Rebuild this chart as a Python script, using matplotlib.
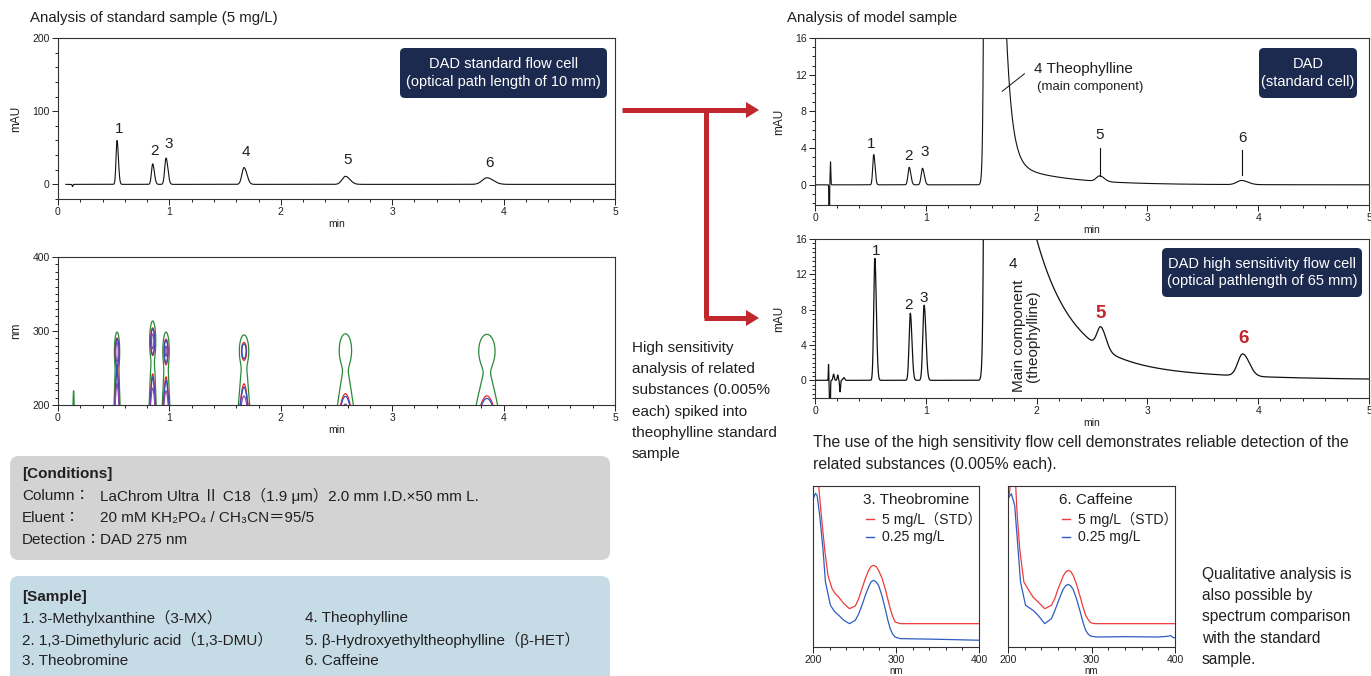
import numpy as np
import matplotlib
matplotlib.use('Agg')
import matplotlib.pyplot as plt
from matplotlib.patches import FancyBboxPatch, Polygon
from matplotlib.ticker import MultipleLocator

plt.rcParams['font.family'] = ['Liberation Sans', 'Noto Sans CJK JP', 'DejaVu Sans']

# ------------------------------------------------------------------ data
peak_labels = ['1', '2', '3', '4', '5', '6']

# standard sample (5 mg/L), standard flow cell, 275 nm
std_rt = [0.53, 0.85, 0.97, 1.67, 2.58, 3.85]
std_height = [60, 28, 36, 23, 11, 9]
std_width = [0.009, 0.011, 0.012, 0.019, 0.030, 0.042]
std_label_y = [75, 46, 55, 44, 33, 29]
std_inj_rt = [0.13]
std_inj_h = [-3]

# PDA (contour) spectral parameters per peak
band_center = [272, 286, 273, 273, 274, 273]
band_width = [10, 11, 10.5, 9.7, 12, 12.9]
uv_end_amp = [3.0, 3.0, 3.0, 3.0, 3.0, 3.0]
uv_end_decay = 14
shoulder_amp = 0.12
shoulder_center = 235
shoulder_width = 15
contour_levels = [2.0, 11.5, 14.5, 30]
contour_colors = ['#2a8a3a', '#e8262a', '#2b4fbf', '#8e44ad']
pda_inj_rt = 0.14
pda_inj_amp = 8

# model sample, standard cell
mod_rt = [0.53, 0.85, 0.97, 2.57, 3.85]
mod_height = [3.3, 1.9, 1.8, 0.6, 0.45]
mod_width = [0.009, 0.011, 0.012, 0.030, 0.042]
mod_inj_rt = [0.128, 0.14]
mod_inj_h = [-14, 2.5]
mod_inj_w = [0.002, 0.003]
mod_tail_ref = 1.73
mod_tail_amp = [13.75, 2.25]
mod_tail_tau = [0.053, 0.47]

# model sample, high sensitivity cell
hs_rt = [0.54, 0.86, 0.985, 2.58, 3.86]
hs_height = [13.8, 7.6, 8.5, 2.4, 2.5]
hs_width = [0.010, 0.011, 0.012, 0.034, 0.044]
hs_inj_rt = [0.122, 0.135, 0.168, 0.205, 0.226, 0.26]
hs_inj_h = [1.8, -7, 0.7, 0.6, -1.3, 0.3]
hs_inj_w = [0.002, 0.003, 0.006, 0.005, 0.004, 0.008]
hs_tail_ref = 2.0
hs_tail_amp = [13.05, 2.95]
hs_tail_tau = [0.31, 1.0]

main_front_rt = 1.60
main_front_w = 0.025
main_front_h = 3000

# UV spectra (normalised to panel height)
theo_wl_red = [207, 210, 214, 218, 223, 227, 231, 237, 244, 251, 255, 259, 263, 267, 270, 273, 276,
               279, 283, 287, 290, 293, 296, 299, 305, 400]
theo_red = [0.99, 0.82, 0.61, 0.445, 0.362, 0.33, 0.31, 0.27, 0.238, 0.255, 0.30, 0.362, 0.425,
            0.476, 0.50, 0.507, 0.50, 0.476, 0.43, 0.362, 0.30, 0.238, 0.19, 0.155, 0.145, 0.145]
theo_wl_blue = [201, 203, 205, 208, 212, 215, 221, 226, 231, 237, 244, 251, 255, 259, 263, 267, 270,
                273, 276, 279, 283, 287, 290, 293, 296, 299, 305, 350, 400]
theo_blue = [0.93, 0.955, 0.94, 0.82, 0.61, 0.404, 0.259, 0.22, 0.197, 0.166, 0.145, 0.166, 0.205,
             0.259, 0.32, 0.373, 0.405, 0.414, 0.405, 0.383, 0.32, 0.238, 0.17, 0.114, 0.08, 0.062,
             0.052, 0.048, 0.042]
caf_wl_red = [200, 202, 203.5, 209, 211, 214, 219, 225, 230, 236, 244, 252, 256, 260, 263, 266, 269,
              272, 275, 278, 282, 286, 290, 293, 296, 299, 304, 400]
caf_red = [0.90, 0.97, 1.05, 1.02, 0.82, 0.61, 0.404, 0.352, 0.31, 0.28, 0.238, 0.259, 0.30, 0.362,
           0.40, 0.44, 0.465, 0.476, 0.47, 0.445, 0.39, 0.32, 0.245, 0.197, 0.17, 0.151, 0.145, 0.145]
caf_wl_blue = [201, 204, 208, 212, 215, 221, 230, 236, 244, 252, 256, 260, 263, 266, 269, 272, 275,
               278, 282, 286, 290, 293, 296, 299, 306, 340, 380, 390, 395, 398, 400]
caf_blue = [0.93, 0.952, 0.88, 0.61, 0.404, 0.259, 0.228, 0.197, 0.145, 0.176, 0.225, 0.28, 0.32,
            0.358, 0.38, 0.389, 0.38, 0.358, 0.30, 0.228, 0.15, 0.104, 0.08, 0.068, 0.062, 0.064,
            0.062, 0.066, 0.07, 0.058, 0.058]

# ------------------------------------------------------------------ helpers
W, H = 1371, 676
fig = plt.figure(figsize=(W / 100, H / 100), dpi=100)
TXT = '#231f20'
RED = '#c1272d'
NAVY = '#1b2a4e'


def px_axes(l, t, r, b):
    return fig.add_axes([l / W, 1 - b / H, (r - l) / W, (b - t) / H])


def peak_sum(t, rts, hs, ws, tail=1.35):
    y = np.zeros_like(t)
    for rt, h, w in zip(rts, hs, ws):
        s = np.where(t < rt, w, w * tail)
        y += h * np.exp(-0.5 * ((t - rt) / s) ** 2)
    return y


def main_peak(t, ref, amps, taus):
    front = main_front_h * np.exp(-0.5 * ((t - main_front_rt) / main_front_w) ** 2)
    tail = sum(a * np.exp(-(t - ref) / tau) for a, tau in zip(amps, taus))
    return np.where(t < main_front_rt, front, tail)


def style_chrom(ax, ymin, ylim, yticks):
    ax.set_xlim(0, 5)
    ax.set_ylim(*ylim)
    ax.set_yticks(yticks)
    ax.xaxis.set_minor_locator(MultipleLocator(0.2))
    ax.yaxis.set_minor_locator(MultipleLocator(ymin))
    ax.tick_params(which='major', direction='out', length=4, width=0.7, labelsize=7.5,
                   pad=2, colors=TXT)
    ax.tick_params(which='minor', direction='out', length=2.3, width=0.6)
    ax.set_xticks([0, 1, 2, 3, 4, 5])
    for s in ax.spines.values():
        s.set_linewidth(0.8)
        s.set_color('#333333')
    ax.set_xlabel('min', fontsize=7.5, labelpad=1, color=TXT)
    ax.set_ylabel('mAU', fontsize=8.5, labelpad=7, color=TXT)


# ------------------------------------------------------------------ panel A
axA = px_axes(58, 38, 615, 199)
tA = np.arange(0.07, 5.0, 0.0005)
yA = peak_sum(tA, std_rt, std_height, std_width) + peak_sum(tA, std_inj_rt, std_inj_h, [0.003])
axA.plot(tA, yA, color='#111111', lw=0.8)
style_chrom(axA, 20, (-20, 200), [0, 100, 200])
for lab, rt, ly in zip(peak_labels, std_rt, std_label_y):
    axA.text(rt + 0.02, ly, lab, fontsize=11, ha='center', va='center', color=TXT)

# ------------------------------------------------------------------ panel B (contour)
axB = px_axes(58, 257, 615, 405)
tg = np.arange(0.0, 5.0, 0.0015)
wl = np.arange(200, 401, 1.0)
T, L = np.meshgrid(tg, wl)
Z = np.zeros_like(T)


def pda_spec(lam, c, bw, a):
    return (np.exp(-0.5 * ((lam - c) / bw) ** 2) + a * np.exp(-(lam - 200) / uv_end_decay)
            + shoulder_amp * np.exp(-0.5 * ((lam - shoulder_center) / shoulder_width) ** 2))


for rt, h, w, c, bw, a in zip(std_rt, std_height, std_width, band_center, band_width, uv_end_amp):
    Z += (h / pda_spec(275.0, c, bw, a)) * np.exp(-0.5 * ((T - rt) / w) ** 2) * pda_spec(L, c, bw, a)
Z += pda_inj_amp * np.exp(-0.5 * ((T - pda_inj_rt) / 0.003) ** 2) * np.exp(-(L - 200) / uv_end_decay)
axB.contour(T, L, Z, levels=contour_levels, colors=contour_colors, linewidths=0.9)
axB.set_xlim(0, 5)
axB.set_ylim(200, 400)
axB.set_yticks([200, 300, 400])
axB.set_xticks([0, 1, 2, 3, 4, 5])
axB.xaxis.set_minor_locator(MultipleLocator(0.2))
axB.yaxis.set_minor_locator(MultipleLocator(10))
axB.tick_params(which='major', direction='out', length=4, width=0.7, labelsize=7.5, pad=2, colors=TXT)
axB.tick_params(which='minor', direction='out', length=2.3, width=0.6)
for s in axB.spines.values():
    s.set_linewidth(0.8)
    s.set_color('#333333')
axB.set_xlabel('min', fontsize=7.5, labelpad=1, color=TXT)
axB.set_ylabel('nm', fontsize=8.5, labelpad=7, color=TXT)

# ------------------------------------------------------------------ panel C
axC = px_axes(815, 38, 1369, 205)
tC = np.arange(0.0, 5.0, 0.0005)
yC = (peak_sum(tC, mod_rt, mod_height, mod_width)
      + peak_sum(tC, mod_inj_rt, mod_inj_h, mod_inj_w, tail=1.0)
      + main_peak(tC, mod_tail_ref, mod_tail_amp, mod_tail_tau))
axC.plot(tC, yC, color='#111111', lw=0.8)
style_chrom(axC, 1, (-2.2, 16), [0, 4, 8, 12, 16])
axC.text(0.51, 4.4, '1', fontsize=11, ha='center', va='center', color=TXT)
axC.text(0.84, 3.1, '2', fontsize=11, ha='center', va='center', color=TXT)
axC.text(0.99, 3.6, '3', fontsize=11, ha='center', va='center', color=TXT)
axC.text(2.57, 5.4, '5', fontsize=11, ha='center', va='center', color=TXT)
axC.text(3.86, 5.1, '6', fontsize=11, ha='center', va='center', color=TXT)
axC.plot([2.57, 2.57], [1.0, 4.0], color='#111111', lw=0.8)
axC.plot([3.85, 3.85], [1.1, 3.8], color='#111111', lw=0.8)
axC.plot([1.69, 1.89], [10.2, 12.1], color='#111111', lw=0.7)
axC.text(1.975, 12.6, '4 Theophylline', fontsize=11, ha='left', va='center', color=TXT)
axC.text(2.0, 10.7, '(main component)', fontsize=9.5, ha='left', va='center', color=TXT)

# ------------------------------------------------------------------ panel D
axD = px_axes(815, 239, 1369, 398)
tD = np.arange(0.0, 5.0, 0.0005)
yD = (peak_sum(tD, hs_rt, hs_height, hs_width)
      + peak_sum(tD, hs_inj_rt, hs_inj_h, hs_inj_w, tail=1.0)
      + main_peak(tD, hs_tail_ref, hs_tail_amp, hs_tail_tau))
axD.plot(tD, yD, color='#111111', lw=0.9)
style_chrom(axD, 0.5, (-2, 16), [0, 4, 8, 12, 16])
axD.text(0.55, 14.6, '1', fontsize=11, ha='center', va='center', color=TXT)
axD.text(0.84, 8.5, '2', fontsize=11, ha='center', va='center', color=TXT)
axD.text(0.98, 9.3, '3', fontsize=11, ha='center', va='center', color=TXT)
axD.text(1.79, 13.2, '4', fontsize=11, ha='center', va='center', color=TXT)
axD.text(1.90, 5.0, 'Main component\n(theophylline)', fontsize=11, rotation=90,
         ha='center', va='center', color=TXT, linespacing=1.0)
axD.text(2.58, 7.6, '5', fontsize=13.5, fontweight='bold', ha='center', va='center', color=RED)
axD.text(3.87, 4.7, '6', fontsize=13.5, fontweight='bold', ha='center', va='center', color=RED)


# ------------------------------------------------------------------ spectra
def style_spec(ax):
    ax.set_xlim(200, 400)
    ax.set_ylim(0, 1)
    ax.set_yticks([])
    ax.set_xticks([200, 300, 400])
    ax.xaxis.set_minor_locator(MultipleLocator(20))
    ax.tick_params(which='major', direction='out', length=4, width=0.7, labelsize=7.5, pad=2,
                   colors=TXT)
    ax.tick_params(which='minor', direction='out', length=2.3, width=0.6)
    for s in ax.spines.values():
        s.set_linewidth(0.8)
        s.set_color('#333333')
    ax.set_xlabel('nm', fontsize=7, labelpad=0.5, color=TXT)


axS1 = px_axes(813, 486, 979, 647)
axS1.plot(theo_wl_red, theo_red, color='#ef3b3b', lw=0.9)
axS1.plot(theo_wl_blue, theo_blue, color='#2f5cc0', lw=0.9)
style_spec(axS1)

axS2 = px_axes(1008, 486, 1175, 647)
axS2.plot(caf_wl_red, caf_red, color='#ef3b3b', lw=0.9)
axS2.plot(caf_wl_blue, caf_blue, color='#2f5cc0', lw=0.9)
style_spec(axS2)

# ------------------------------------------------------------------ overlay (text, boxes, arrows)
ov = fig.add_axes([0, 0, 1, 1])
ov.set_xlim(0, W)
ov.set_ylim(H, 0)
ov.axis('off')
ov.patch.set_alpha(0)

ov.text(30, 18, 'Analysis of standard sample (5 mg/L)', fontsize=10.8, va='center', color=TXT)
ov.text(787, 18, 'Analysis of model sample', fontsize=10.8, va='center', color=TXT)


def navy_box(l, t, r, b, lines):
    ov.add_patch(FancyBboxPatch((l, t), r - l, b - t,
                                boxstyle='round,pad=0,rounding_size=5',
                                fc=NAVY, ec='none', zorder=5))
    ov.text((l + r) / 2, (t + b) / 2, lines, fontsize=10.5, color='white', ha='center',
            va='center', linespacing=1.3, zorder=6)


navy_box(400, 48, 607, 98, 'DAD standard flow cell\n(optical path length of 10 mm)')
navy_box(1259, 48, 1357, 98, 'DAD\n(standard cell)')
navy_box(1162, 248, 1362, 297, 'DAD high sensitivity flow cell\n(optical pathlength of 65 mm)')

# arrows
ov.plot([622, 748], [110, 110], color=RED, lw=3.6, solid_capstyle='butt')
ov.plot([706, 706], [110, 318], color=RED, lw=3.6, solid_capstyle='butt')
ov.plot([704.2, 748], [318, 318], color=RED, lw=3.6, solid_capstyle='butt')
ov.add_patch(Polygon([[746, 102], [759, 110], [746, 118]], closed=True, fc=RED, ec='none'))
ov.add_patch(Polygon([[746, 310], [759, 318], [746, 326]], closed=True, fc=RED, ec='none'))

left_note = ['High sensitivity', 'analysis of related', 'substances (0.005%', 'each) spiked into',
             'theophylline standard', 'sample']
for i, s in enumerate(left_note):
    ov.text(632, 348 + 21.2 * i, s, fontsize=11, va='center', color=TXT)
ov.text(813, 442, 'The use of the high sensitivity flow cell demonstrates reliable detection of the',
        fontsize=11.3, va='center', color=TXT)
ov.text(813, 465, 'related substances (0.005% each).', fontsize=11.3, va='center', color=TXT)
right_note = ['Qualitative analysis is', 'also possible by', 'spectrum comparison', 'with the standard',
              'sample.']
for i, s in enumerate(right_note):
    ov.text(1202, 574 + 21.4 * i, s, fontsize=11.2, va='center', color=TXT)

# spectra legends
for x0, title in [(863, '3. Theobromine'), (1059, '6. Caffeine')]:
    ov.text(x0, 500, title, fontsize=11, va='center', color=TXT)
    ov.plot([x0 + 3, x0 + 11], [519, 519], color='#ef3b3b', lw=1.0)
    ov.plot([x0 + 3, x0 + 11], [537, 537], color='#2f5cc0', lw=1.0)
    ov.text(x0 + 19, 519, '5 mg/L（STD）', fontsize=10.2, va='center', color=TXT)
    ov.text(x0 + 19, 537, '0.25 mg/L', fontsize=10.2, va='center', color=TXT)

# conditions box
ov.add_patch(FancyBboxPatch((10, 456), 600, 104, boxstyle='round,pad=0,rounding_size=9',
                            fc='#d3d3d3', ec='none', zorder=1))
ov.text(22, 474, '[Conditions]', fontsize=11, fontweight='bold', va='center', color=TXT, zorder=2)
cond_rows = [('Column：', 'LaChrom Ultra Ⅱ C18（1.9 μm）2.0 mm I.D.×50 mm L.'),
             ('Eluent：', '20 mM KH₂PO₄ / CH₃CN＝95/5'),
             ('Detection：', 'DAD 275 nm')]
for i, (k, v) in enumerate(cond_rows):
    y = 496 + 22 * i
    ov.text(22, y, k, fontsize=11, va='center', color=TXT, zorder=2)
    ov.text(100, y, v, fontsize=11, va='center', color=TXT, zorder=2)

# sample box
ov.add_patch(FancyBboxPatch((10, 576), 600, 120, boxstyle='round,pad=0,rounding_size=9',
                            fc='#c5dce7', ec='none', zorder=1))
ov.text(22, 597, '[Sample]', fontsize=11, fontweight='bold', va='center', color=TXT, zorder=2)
sample_left = ['1. 3-Methylxanthine（3-MX）', '2. 1,3-Dimethyluric acid（1,3-DMU）', '3. Theobromine']
sample_right = ['4. Theophylline', '5. β-Hydroxyethyltheophylline（β-HET）', '6. Caffeine']
for i, (a, b) in enumerate(zip(sample_left, sample_right)):
    y = 618 + 21.5 * i
    ov.text(22, y, a, fontsize=11, va='center', color=TXT, zorder=2)
    ov.text(305, y, b, fontsize=11, va='center', color=TXT, zorder=2)

fig.savefig('out.png', dpi=100)
